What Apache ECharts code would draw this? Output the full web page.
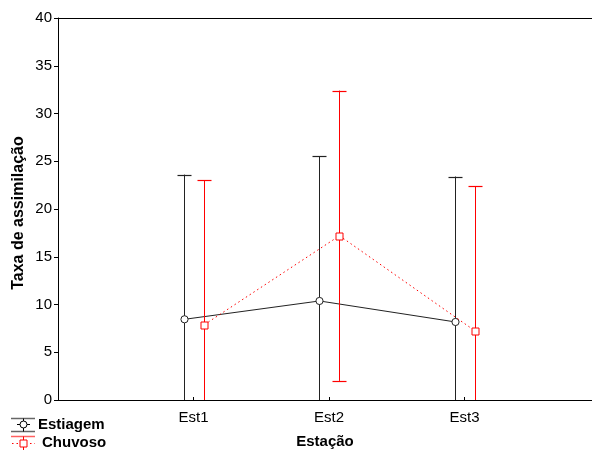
<!DOCTYPE html>
<html><head><meta charset="utf-8">
<script src="https://cdn.jsdelivr.net/npm/echarts@6/dist/echarts.min.js"></script>
<style>html,body{margin:0;padding:0;background:#fff}#c{width:592px;height:450px}</style>
</head><body><div id="c"></div>
<script>
const categories = ['Est1', 'Est2', 'Est3'];
const estiagemMean = [8.45, 10.37, 8.17];
const estiagemErr = [15.15, 15.13, 15.23];
const chuvosoMean = [7.9, 17.2, 7.2];
const chuvosoErr = [15.1, 15.2, 15.2];
const yTicks = [0, 5, 10, 15, 20, 25, 30, 35, 40];
const yTitle = 'Taxa de assimilação';

const FONT = '"Liberation Sans", Arial, sans-serif';
const chart = echarts.init(document.getElementById('c'), null, {renderer: 'canvas'});

function makeSeries(name, means, errs, color, offset, marker, dotted) {
  const data = means.map((m, i) => [i + 1, m, m - errs[i], m + errs[i]]);
  return {
    type: 'custom', name: name, clip: true, z: dotted ? 3 : 2,
    data: data,
    encode: {x: 0, y: [1, 2, 3]},
    renderItem: function (params, api) {
      const i = params.dataIndex;
      const x = Math.round(api.coord([api.value(0), 0])[0] + offset) + 0.5;
      const pm = api.coord([api.value(0), api.value(1)]);
      const pl = api.coord([api.value(0), api.value(2)]);
      const ph = api.coord([api.value(0), api.value(3)]);
      const children = [];
      if (i < data.length - 1) {
        const nx = Math.round(api.coord([data[i + 1][0], 0])[0] + offset) + 0.5;
        const ny = api.coord([data[i + 1][0], data[i + 1][1]])[1];
        children.push({type: 'line', shape: {x1: x, y1: pm[1], x2: nx, y2: ny},
          style: {stroke: color, lineWidth: 1, lineDash: dotted ? [1.5, 3] : null}});
      }
      children.push({type: 'line', shape: {x1: x, y1: pl[1], x2: x, y2: ph[1]},
        style: {stroke: color, lineWidth: 1}});
      const ty = Math.round(ph[1]) + 0.5, by = Math.round(pl[1]) + 0.5;
      children.push({type: 'line', shape: {x1: x - 7, y1: ty, x2: x + 7, y2: ty}, style: {stroke: color, lineWidth: 1.2}});
      children.push({type: 'line', shape: {x1: x - 7, y1: by, x2: x + 7, y2: by}, style: {stroke: color, lineWidth: 1.2}});
      if (marker === 'circle') {
        children.push({type: 'circle', shape: {cx: x, cy: pm[1], r: 3.6}, style: {fill: '#fff', stroke: color, lineWidth: 1}});
      } else {
        children.push({type: 'rect', shape: {x: x - 3.5, y: Math.round(pm[1]) - 3, width: 7, height: 7}, style: {fill: '#fff', stroke: color, lineWidth: 1}});
      }
      return {type: 'group', children: children};
    }
  };
}

const xMax = 534 / 135.5;
const option = {
  animation: false,
  backgroundColor: '#fff',
  grid: {left: 58, top: 18, right: 0, bottom: 50, show: false, containLabel: false, outerBoundsMode: 'none'},
  xAxis: [{
    type: 'value', min: 0, max: xMax, interval: 1,
    name: 'Estação', nameLocation: 'middle', nameGap: 34,
    nameTextStyle: {fontFamily: FONT, fontSize: 15, fontWeight: 'bold', color: '#000'},
    axisLine: {show: true, lineStyle: {color: '#000'}},
    axisTick: {show: true, inside: true, length: 3, lineStyle: {color: '#000'}},
    axisLabel: {fontFamily: FONT, fontSize: 15, color: '#000', margin: 10, showMaxLabel: false,
      formatter: v => categories[Math.round(v) - 1] && Math.abs(v - Math.round(v)) < 1e-6 ? categories[Math.round(v) - 1] : ''},
    splitLine: {show: false}
  }, {
    type: 'value', position: 'top', min: 0, max: xMax,
    axisLine: {show: true, lineStyle: {color: '#000'}},
    axisTick: {show: false}, axisLabel: {show: false}, splitLine: {show: false}
  }],
  yAxis: {
    type: 'value', min: yTicks[0], max: yTicks[yTicks.length - 1], interval: 5,
    axisLine: {show: true, lineStyle: {color: '#000'}},
    axisTick: {show: true, inside: false, length: 4, lineStyle: {color: '#000'}},
    axisLabel: {fontFamily: FONT, fontSize: 15, color: '#000', margin: 6},
    splitLine: {show: false}
  },
  series: [
    makeSeries('Estiagem', estiagemMean, estiagemErr, '#222', -10, 'circle', false),
    makeSeries('Chuvoso', chuvosoMean, chuvosoErr, '#ff0000', 10, 'rect', true)
  ],
  graphic: [
    {type: 'text', x: 19, y: 213, rotation: Math.PI / 2,
      style: {text: yTitle, font: 'bold 16px ' + FONT, fill: '#000', align: 'center', verticalAlign: 'middle'}},
    {type: 'line', shape: {x1: 11, y1: 418.5, x2: 35, y2: 418.5}, style: {stroke: '#666', lineWidth: 1.5}},
    {type: 'line', shape: {x1: 11, y1: 431.5, x2: 35, y2: 431.5}, style: {stroke: '#666', lineWidth: 1.5}},
    {type: 'line', shape: {x1: 17, y1: 424.5, x2: 30, y2: 424.5}, style: {stroke: '#000', lineWidth: 1}},
    {type: 'line', shape: {x1: 23.5, y1: 418.5, x2: 23.5, y2: 431.5}, style: {stroke: '#000', lineWidth: 1}},
    {type: 'circle', shape: {cx: 23.5, cy: 424.5, r: 3.5}, style: {fill: '#fff', stroke: '#000', lineWidth: 1}},
    {type: 'text', left: 38, top: 417, style: {text: 'Estiagem', font: 'bold 15px ' + FONT, fill: '#000'}},
    {type: 'line', shape: {x1: 11, y1: 436.5, x2: 35, y2: 436.5}, style: {stroke: '#ff6060', lineWidth: 1.5}},
    {type: 'line', shape: {x1: 12, y1: 443.5, x2: 35, y2: 443.5}, style: {stroke: '#ff0000', lineWidth: 1, lineDash: [1.5, 3]}},
    {type: 'line', shape: {x1: 23.5, y1: 436.5, x2: 23.5, y2: 450}, style: {stroke: '#ff0000', lineWidth: 1}},
    {type: 'rect', shape: {x: 20, y: 440, width: 7, height: 7}, style: {fill: '#fff', stroke: '#ff0000', lineWidth: 1}},
    {type: 'text', left: 42, top: 435, style: {text: 'Chuvoso', font: 'bold 15px ' + FONT, fill: '#000'}}
  ]
};
chart.setOption(option);
</script></body></html>
